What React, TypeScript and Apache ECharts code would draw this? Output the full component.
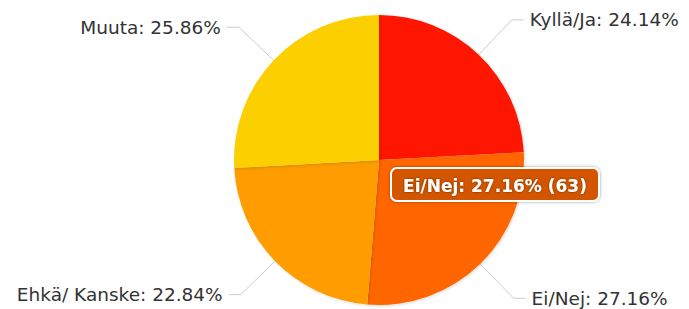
import React, { useEffect, useRef } from "react";
import * as echarts from "echarts";

const categories = ["Kyllä/Ja", "Ei/Nej", "Ehkä/ Kanske", "Muuta"];
const counts = [56, 63, 53, 60];
const percents = [24.14, 27.16, 22.84, 25.86];
const colors = ["#ff1400", "#ff6600", "#fe9c00", "#fcd000"];
const highlightIndex = 1;

export default function App() {
  const ref = useRef<HTMLDivElement>(null);
  useEffect(() => {
    if (!ref.current) return;
    const chart = echarts.init(ref.current, undefined, { renderer: "svg" });
    const data = categories.map((c, i) => ({
      name: c,
      value: counts[i],
      itemStyle: { color: colors[i] },
    }));
    const tipText = `${categories[highlightIndex]}: ${percents[highlightIndex].toFixed(2)}% (${counts[highlightIndex]})`;
    chart.setOption({
      animation: false,
      series: [
        {
          type: "pie",
          center: [379, 160],
          radius: 145,
          startAngle: 90,
          clockwise: true,
          data,
          avoidLabelOverlap: false,
          itemStyle: {
            borderWidth: 0,
            shadowBlur: 3,
            shadowOffsetX: 1,
            shadowOffsetY: 1,
            shadowColor: "rgba(0,0,0,0.15)",
          },
          label: {
            show: true,
            formatter: (p: any) => `${p.name}: ${percents[p.dataIndex].toFixed(2)}%`,
            fontFamily: "DejaVu Sans",
            fontSize: 18.5,
            color: "#333",
            distanceToLabelLine: 6,
          },
          labelLine: {
            show: true,
            length: 48,
            length2: 12,
            smooth: false,
            lineStyle: { color: "#cccccc", width: 1 },
          },
          emphasis: { disabled: true },
        },
      ],
      graphic: [
        {
          type: "group",
          left: 390,
          top: 167,
          z: 100,
          children: [
            {
              type: "rect",
              z: 100,
              shape: { x: 0, y: 0, width: 208, height: 33, r: 6 },
              style: {
                fill: "#d35400",
                stroke: "#ffffff",
                lineWidth: 2,
                shadowBlur: 3,
                shadowColor: "rgba(0,0,0,0.4)",
              },
            },
            {
              type: "text",
              z: 101,
              x: 104,
              y: 18,
              style: {
                text: tipText,
                fill: "#ffffff",
                font: "bold 17px 'DejaVu Sans'",
                align: "center",
                verticalAlign: "middle",
                textShadowColor: "rgba(0,0,0,0.5)",
                textShadowBlur: 2,
              },
            },
          ],
        },
      ],
    });
    return () => chart.dispose();
  }, []);
  return (
    <div
      ref={ref}
      style={{ position: "fixed", left: 0, top: 0, width: 689, height: 309, background: "#fff" }}
    />
  );
}
